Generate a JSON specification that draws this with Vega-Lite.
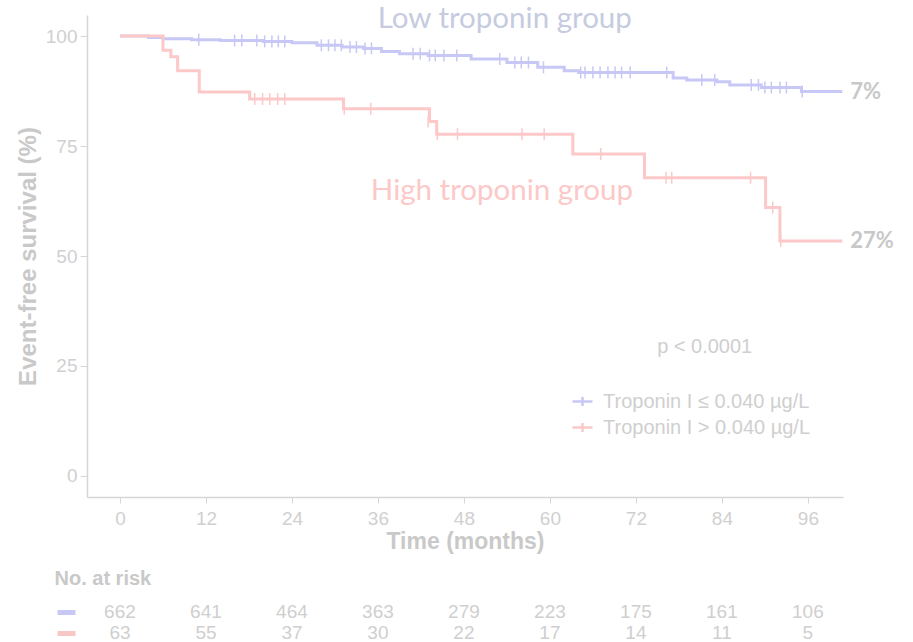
{
  "$schema": "https://vega.github.io/schema/vega-lite/v6.json",
  "background": "white",
  "padding": {"left": 16, "top": 3, "right": 0, "bottom": 0},
  "config": {
    "view": {"stroke": null},
    "font": "Liberation Sans",
    "concat": {"spacing": 16}
  },
  "datasets": {
    "curves": [
      {"group": "low", "t": 0, "S": 100},
      {"group": "low", "t": 4, "S": 99.7},
      {"group": "low", "t": 6, "S": 99.4},
      {"group": "low", "t": 10, "S": 99.2},
      {"group": "low", "t": 14, "S": 99.0},
      {"group": "low", "t": 20, "S": 98.8},
      {"group": "low", "t": 24, "S": 98.5},
      {"group": "low", "t": 27.5, "S": 97.9},
      {"group": "low", "t": 31, "S": 97.5},
      {"group": "low", "t": 34, "S": 97.2},
      {"group": "low", "t": 36.5, "S": 96.5},
      {"group": "low", "t": 39, "S": 96.0},
      {"group": "low", "t": 43, "S": 95.6},
      {"group": "low", "t": 49, "S": 94.8},
      {"group": "low", "t": 54, "S": 94.0},
      {"group": "low", "t": 58.3, "S": 92.9},
      {"group": "low", "t": 62, "S": 92.1},
      {"group": "low", "t": 64, "S": 91.7},
      {"group": "low", "t": 77.2, "S": 90.5},
      {"group": "low", "t": 79.1, "S": 90.0},
      {"group": "low", "t": 83.3, "S": 89.6},
      {"group": "low", "t": 85.1, "S": 88.9},
      {"group": "low", "t": 89.5, "S": 88.3},
      {"group": "low", "t": 95.1, "S": 87.4},
      {"group": "low", "t": 100.8, "S": 87.4},
      {"group": "high", "t": 0, "S": 100},
      {"group": "high", "t": 6.0, "S": 96.8},
      {"group": "high", "t": 7.1, "S": 95.3},
      {"group": "high", "t": 8.05, "S": 92.1},
      {"group": "high", "t": 11.07, "S": 87.3},
      {"group": "high", "t": 18.1, "S": 85.7},
      {"group": "high", "t": 31.2, "S": 83.5},
      {"group": "high", "t": 43.2, "S": 80.6},
      {"group": "high", "t": 44.2, "S": 77.7},
      {"group": "high", "t": 63.2, "S": 73.2},
      {"group": "high", "t": 73.2, "S": 67.8},
      {"group": "high", "t": 90.1, "S": 61.0},
      {"group": "high", "t": 92.1, "S": 53.4},
      {"group": "high", "t": 100.8, "S": 53.4}
    ],
    "censored": [
      {"group": "low", "t": 11, "S": 99.2},
      {"group": "low", "t": 16, "S": 99.0},
      {"group": "low", "t": 17, "S": 99.0},
      {"group": "low", "t": 19.1, "S": 99.0},
      {"group": "low", "t": 20.2, "S": 98.8},
      {"group": "low", "t": 21.2, "S": 98.8},
      {"group": "low", "t": 22.1, "S": 98.8},
      {"group": "low", "t": 23, "S": 98.8},
      {"group": "low", "t": 28.1, "S": 97.9},
      {"group": "low", "t": 29.1, "S": 97.9},
      {"group": "low", "t": 30, "S": 97.9},
      {"group": "low", "t": 30.9, "S": 97.9},
      {"group": "low", "t": 32.1, "S": 97.5},
      {"group": "low", "t": 33, "S": 97.5},
      {"group": "low", "t": 34.2, "S": 97.2},
      {"group": "low", "t": 35.1, "S": 97.2},
      {"group": "low", "t": 40.9, "S": 96.0},
      {"group": "low", "t": 41.9, "S": 96.0},
      {"group": "low", "t": 43.2, "S": 95.6},
      {"group": "low", "t": 44, "S": 95.6},
      {"group": "low", "t": 45.2, "S": 95.6},
      {"group": "low", "t": 47, "S": 95.6},
      {"group": "low", "t": 53, "S": 94.8},
      {"group": "low", "t": 55.1, "S": 94.0},
      {"group": "low", "t": 56, "S": 94.0},
      {"group": "low", "t": 57, "S": 94.0},
      {"group": "low", "t": 59.1, "S": 92.9},
      {"group": "low", "t": 64.3, "S": 91.7},
      {"group": "low", "t": 64.9, "S": 91.7},
      {"group": "low", "t": 66, "S": 91.7},
      {"group": "low", "t": 67, "S": 91.7},
      {"group": "low", "t": 68.1, "S": 91.7},
      {"group": "low", "t": 69.1, "S": 91.7},
      {"group": "low", "t": 70, "S": 91.7},
      {"group": "low", "t": 71.2, "S": 91.7},
      {"group": "low", "t": 76.3, "S": 91.7},
      {"group": "low", "t": 81.2, "S": 90.0},
      {"group": "low", "t": 83, "S": 90.0},
      {"group": "low", "t": 88.1, "S": 88.9},
      {"group": "low", "t": 89.1, "S": 88.9},
      {"group": "low", "t": 90, "S": 88.3},
      {"group": "low", "t": 90.9, "S": 88.3},
      {"group": "low", "t": 92.1, "S": 88.3},
      {"group": "low", "t": 93, "S": 88.3},
      {"group": "low", "t": 95.2, "S": 87.4},
      {"group": "high", "t": 18.8, "S": 85.7},
      {"group": "high", "t": 19.9, "S": 85.7},
      {"group": "high", "t": 20.9, "S": 85.7},
      {"group": "high", "t": 22.0, "S": 85.7},
      {"group": "high", "t": 23.0, "S": 85.7},
      {"group": "high", "t": 31.3, "S": 83.5},
      {"group": "high", "t": 35.0, "S": 83.5},
      {"group": "high", "t": 43.0, "S": 80.6},
      {"group": "high", "t": 44.3, "S": 77.7},
      {"group": "high", "t": 47.1, "S": 77.7},
      {"group": "high", "t": 56.1, "S": 77.7},
      {"group": "high", "t": 59.2, "S": 77.7},
      {"group": "high", "t": 67.1, "S": 73.2},
      {"group": "high", "t": 76.2, "S": 67.8},
      {"group": "high", "t": 77.0, "S": 67.8},
      {"group": "high", "t": 88.0, "S": 67.8},
      {"group": "high", "t": 91.1, "S": 61.0},
      {"group": "high", "t": 92.2, "S": 53.4}
    ],
    "endpoints": [
      {"group": "low", "t": 100.8, "S": 87.4, "label": "7%"},
      {"group": "high", "t": 100.8, "S": 53.4, "label": "27%"}
    ],
    "atrisk": [
      {"group": "low", "t": 0, "n": 662},
      {"group": "low", "t": 12, "n": 641},
      {"group": "low", "t": 24, "n": 464},
      {"group": "low", "t": 36, "n": 363},
      {"group": "low", "t": 48, "n": 279},
      {"group": "low", "t": 60, "n": 223},
      {"group": "low", "t": 72, "n": 175},
      {"group": "low", "t": 84, "n": 161},
      {"group": "low", "t": 96, "n": 106},
      {"group": "high", "t": 0, "n": 63},
      {"group": "high", "t": 12, "n": 55},
      {"group": "high", "t": 24, "n": 37},
      {"group": "high", "t": 36, "n": 30},
      {"group": "high", "t": 48, "n": 22},
      {"group": "high", "t": 60, "n": 17},
      {"group": "high", "t": 72, "n": 14},
      {"group": "high", "t": 84, "n": 11},
      {"group": "high", "t": 96, "n": 5}
    ]
  },
  "vconcat": [
    {
      "width": 756,
      "height": 482,
      "encoding": {
        "x": {
          "field": "t", "type": "quantitative",
          "scale": {"domain": [-4.6, 100.9], "nice": false, "zero": false},
          "axis": {
            "title": "Time (months)",
            "values": [0, 12, 24, 36, 48, 60, 72, 84, 96],
            "grid": false,
            "domainColor": "#d6d6d6", "domainWidth": 1.5,
            "tickColor": "#d6d6d6", "tickSize": 6, "tickWidth": 1,
            "labelFontSize": 19, "labelColor": "#d0d0d0", "labelPadding": 6,
            "titleFontSize": 23, "titleFontWeight": "bold", "titleColor": "#c9c9c9", "titlePadding": 2
          }
        },
        "y": {
          "field": "S", "type": "quantitative",
          "scale": {"domain": [-4.8, 104.8], "nice": false, "zero": false},
          "axis": {
            "title": "Event-free survival (%)",
            "values": [0, 25, 50, 75, 100],
            "grid": false,
            "domainColor": "#d6d6d6", "domainWidth": 1.5,
            "tickColor": "#d6d6d6", "tickSize": 7, "tickWidth": 1,
            "labelFontSize": 19, "labelColor": "#d0d0d0", "labelPadding": 3,
            "titleFontSize": 24, "titleFontWeight": "bold", "titleColor": "#c9c9c9", "titlePadding": 5
          }
        }
      },
      "layer": [
        {
          "data": {"name": "curves"},
          "mark": {"type": "line", "interpolate": "step-after", "strokeWidth": 3},
          "encoding": {
            "color": {
              "field": "group", "type": "nominal",
              "scale": {"domain": ["low", "high"], "range": ["#c8c8f6", "#fcc8c8"]},
              "legend": {
                "title": null,
                "orient": "none",
                "legendX": 484,
                "legendY": 375,
                "labelExpr": "datum.value === 'low' ? 'Troponin I \u2264 0.040 \u00b5g/L' : 'Troponin I > 0.040 \u00b5g/L'",
                "labelFontSize": 20,
                "labelColor": "#cfcfcf",
                "labelLimit": 0,
                "labelOffset": 9,
                "symbolType": "M-1,0H1M0,-0.45V0.45",
                "symbolSize": 400,
                "symbolStrokeWidth": 2.5,
                "rowPadding": 4
              }
            }
          }
        },
        {
          "data": {"name": "censored"},
          "mark": {"type": "point", "shape": "M0,-1V1", "filled": false, "strokeWidth": 1.5, "size": 144, "opacity": 1},
          "encoding": {
            "color": {"field": "group", "type": "nominal"}
          }
        },
        {
          "data": {"name": "endpoints"},
          "mark": {"type": "text", "align": "left", "baseline": "middle", "dx": 8, "font": "Lato", "fontWeight": "bold", "fontSize": 22, "color": "#c8c8c8"},
          "encoding": {"text": {"field": "label"}}
        },
        {
          "data": {"values": [{"t": 53.7, "S": 103.9, "label": "Low troponin group"}]},
          "mark": {"type": "text", "align": "center", "baseline": "middle", "font": "Lato", "fontSize": 29.5, "color": "#c6cbe0"},
          "encoding": {"text": {"field": "label"}}
        },
        {
          "data": {"values": [{"t": 53.3, "S": 64.8, "label": "High troponin group"}]},
          "mark": {"type": "text", "align": "center", "baseline": "middle", "font": "Lato", "fontSize": 29.5, "color": "#fcc8c8"},
          "encoding": {"text": {"field": "label"}}
        },
        {
          "data": {"values": [{"t": 81.6, "S": 29.3, "label": "p < 0.0001"}]},
          "mark": {"type": "text", "align": "center", "baseline": "middle", "fontSize": 20, "color": "#cfcfcf"},
          "encoding": {"text": {"field": "label"}}
        }
      ]
    },
    {
      "width": 756,
      "height": 42,
      "title": {
        "text": "No. at risk",
        "anchor": "start",
        "frame": "bounds",
        "fontSize": 20,
        "fontWeight": "bold",
        "color": "#c9c9c9",
        "offset": 12
      },
      "data": {"name": "atrisk"},
      "mark": {"type": "text", "align": "center", "baseline": "middle", "fontSize": 19, "color": "#cfcfcf"},
      "encoding": {
        "x": {
          "field": "t", "type": "quantitative",
          "scale": {"domain": [-4.6, 100.9], "nice": false, "zero": false},
          "axis": null
        },
        "y": {
          "field": "group", "type": "nominal",
          "sort": ["low", "high"],
          "axis": {
            "title": null,
            "labels": false,
            "domain": false,
            "offset": 12,
            "tickSize": 18,
            "tickWidth": 5,
            "tickCap": "butt",
            "tickColor": {"condition": {"test": "datum.value === 'low'", "value": "#c8c8f4"}, "value": "#f9c6c6"}
          }
        },
        "text": {"field": "n", "type": "quantitative"}
      }
    }
  ]
}
